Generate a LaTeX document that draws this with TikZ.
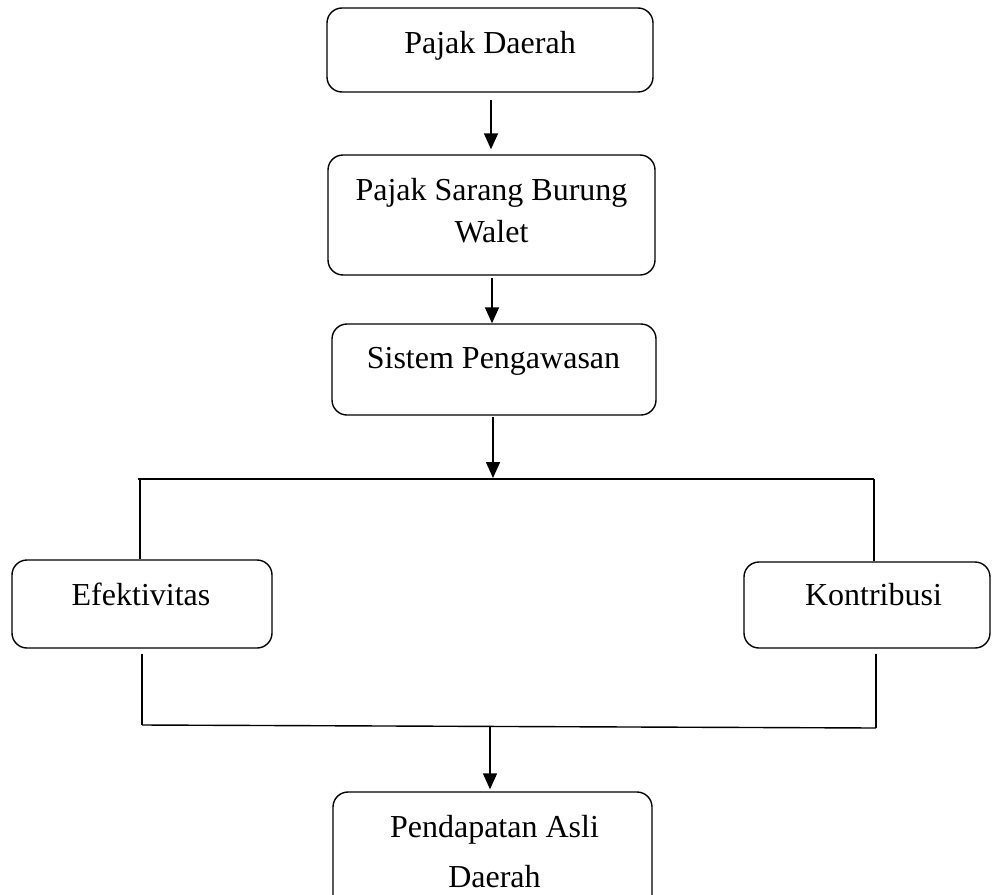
\documentclass[tikz,border=0pt]{standalone}
\usepackage{fontspec}
\setmainfont{Liberation Serif}
\usetikzlibrary{arrows.meta,calc}
\begin{document}
\begin{tikzpicture}[x=1pt,y=-1pt,
  box/.style={draw, line width=1.4pt, rounded corners=15pt, inner sep=0pt},
  lbl/.style={font=\fontsize{32}{42}\selectfont, inner sep=0pt, anchor=base},
  ln/.style={line width=1.4pt},
  arr/.style={line width=1.6pt, -{Triangle[length=16pt,width=14pt]}}]
\clip (0,0) rectangle (998,894);
% boxes
\node[box, minimum width=326pt, minimum height=84pt] (b1) at (490,50) {};
\node[box, minimum width=327pt, minimum height=120pt] (b2) at (491.5,215) {};
\node[box, minimum width=324pt, minimum height=91pt] (b3) at (494,369.5) {};
\node[box, minimum width=260pt, minimum height=88pt] (b4) at (142,604) {};
\node[box, minimum width=246pt, minimum height=86pt] (b5) at (867,605) {};
\node[box, minimum width=319pt, minimum height=120pt] (b6) at (492.5,852) {};
% labels
\node[lbl] (t1) at (490,53) {Pajak Daerah};
\node[lbl] (t2a) at (491.5,200) {Pajak Sarang Burung};
\node[lbl] (t2b) at (491.5,242) {Walet};
\node[lbl] (t3) at (493.5,368) {Sistem Pengawasan};
\node[lbl] (t4) at (141,605) {Efektivitas};
\node[lbl] (t5) at (873.5,605) {Kontribusi};
\node[lbl] (t6a) at (494.5,837) {Pendapatan Asli};
\node[lbl] (t6b) at (494.5,887) {Daerah};
% junction coordinates
\coordinate (hL) at (138,479);
\coordinate (hR) at (874,479);
\coordinate (hM) at (493,478);
\coordinate (vL1) at (140,479);
\coordinate (vR1) at (874,479);
\coordinate (bL) at (142,725);
\coordinate (bR) at (876,728);
\coordinate (bM) at (490,726.5);
\coordinate (a1) at (491,100);
\coordinate (a2) at (492,278);
\coordinate (a3) at (493,417);
% connectors
\draw[arr] (a1) -- ([yshift=5pt]b2.north -| a1);
\draw[arr] (a2) -- (b3.north -| a2);
\draw[arr] (a3) -- (hM);
\draw[ln] (hL) -- (hR);
\draw[ln] (vL1) -- (b4.north -| vL1);
\draw[ln] (vR1) -- (vR1 |- b5.north);
\draw[ln] ([yshift=-5pt]b4.south) -- (bL);
\draw[ln] ([yshift=-5pt]b5.south -| bR) -- (bR);
\draw[ln] (bL) -- (bR);
\draw[arr] (bM) -- ([yshift=2pt]b6.north -| bM);
\end{tikzpicture}
\end{document}
